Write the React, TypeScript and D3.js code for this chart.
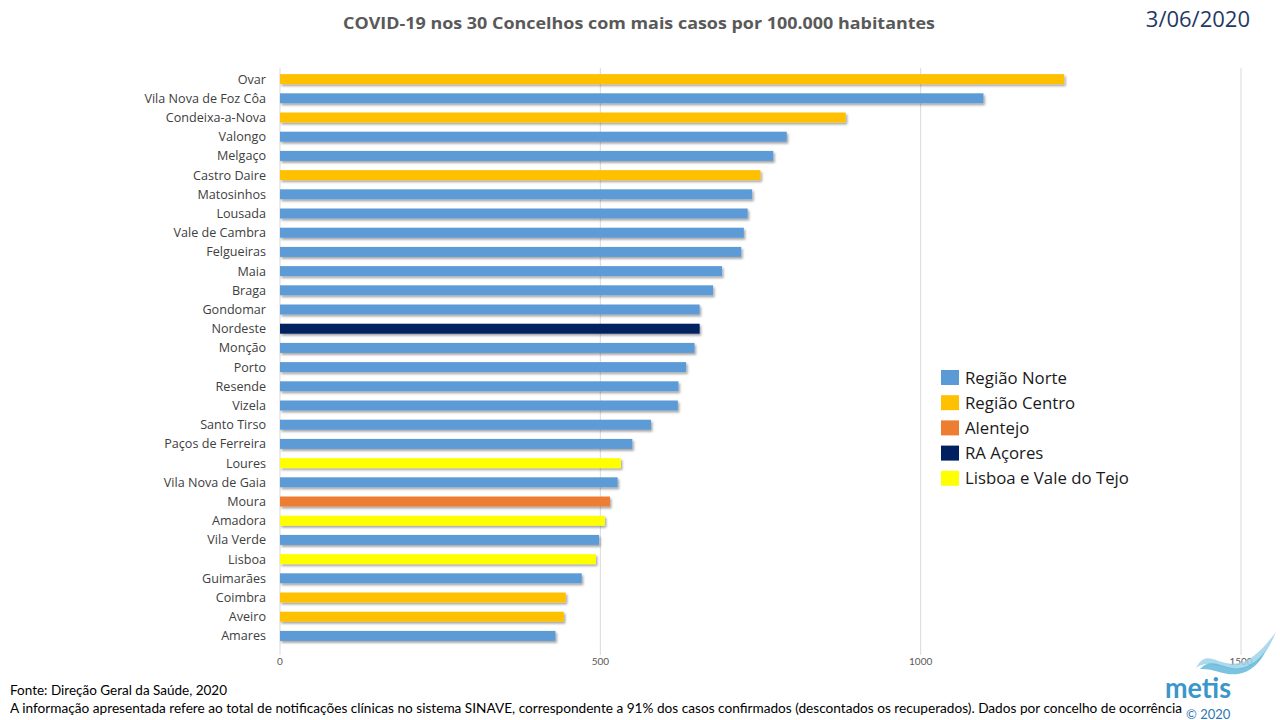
import React from "react";
import * as d3 from "d3";

const categories = [
  "Ovar", "Vila Nova de Foz Côa", "Condeixa-a-Nova", "Valongo", "Melgaço", "Castro Daire",
  "Matosinhos", "Lousada", "Vale de Cambra", "Felgueiras", "Maia", "Braga", "Gondomar",
  "Nordeste", "Monção", "Porto", "Resende", "Vizela", "Santo Tirso", "Paços de Ferreira",
  "Loures", "Vila Nova de Gaia", "Moura", "Amadora", "Vila Verde", "Lisboa", "Guimarães",
  "Coimbra", "Aveiro", "Amares",
];
const values = [
  1224, 1098, 883, 791, 770, 750, 737, 730, 724, 720, 690, 676, 655, 655, 647, 634, 622,
  621, 579, 550, 532, 527, 515, 507, 498, 493, 471, 446, 443, 430,
];
const regions = [
  "C", "N", "C", "N", "N", "C", "N", "N", "N", "N", "N", "N", "N", "A", "N", "N", "N",
  "N", "N", "N", "L", "N", "Al", "L", "N", "L", "N", "C", "C", "N",
];
const legendKeys = ["N", "C", "Al", "A", "L"];
const legendLabels = ["Região Norte", "Região Centro", "Alentejo", "RA Açores", "Lisboa e Vale do Tejo"];
const regionColors: Record<string, string> = {
  N: "#5B9BD5",
  C: "#FFC000",
  Al: "#ED7D31",
  A: "#002060",
  L: "#FFFF00",
};
const xTicks = [0, 500, 1000, 1500];

export default function App() {
  const W = 1280, H = 720;
  const x = d3.scaleLinear().domain([0, 1500]).range([280, 1241]);
  const y = d3.scaleBand().domain(categories).range([69.5, 645.5]).paddingInner(0.48).paddingOuter(0.24);
  const font = "'Open Sans', sans-serif";
  const narrow = "Lato, 'Open Sans', sans-serif";

  return (
    <svg width={W} height={H} style={{ position: "absolute", left: 0, top: 0, background: "#fff" }} fontFamily={font}>
      <defs>
        <filter id="sh" x="-5%" y="-50%" width="110%" height="250%">
          <feDropShadow dx="1.5" dy="2" stdDeviation="1.2" floodColor="#000" floodOpacity="0.35" />
        </filter>
      </defs>
      <rect width={W} height={H} fill="#fff" />
      <text x={343} y={29} fontSize={16.5} fontWeight="bold" fill="#595959"
        textLength={592} lengthAdjust="spacingAndGlyphs">
        COVID-19 nos 30 Concelhos com mais casos por 100.000 habitantes
      </text>
      <text x={1250} y={27} textAnchor="end" fontSize={22} fill="#1F3864">3/06/2020</text>

      {/* gridlines */}
      {xTicks.map((t) => (
        <line key={t} x1={x(t)} x2={x(t)} y1={68} y2={655} stroke="#D9D9D9" strokeWidth={1} />
      ))}
      {xTicks.map((t) => (
        <text key={"t" + t} x={x(t)} y={665} textAnchor="middle" fontSize={10} fill="#595959" fontFamily={narrow}>{t}</text>
      ))}

      {/* bars */}
      {categories.map((c, i) => (
        <g key={c}>
          <rect
            x={x(0)}
            y={y(c)!}
            width={x(values[i]) - x(0)}
            height={y.bandwidth()}
            fill={regionColors[regions[i]]}
            filter="url(#sh)"
          />
          <text x={266} y={y(c)! + y.bandwidth() / 2 + 4.5} textAnchor="end" fontSize={12.6} fill="#404040">
            {c}
          </text>
        </g>
      ))}

      {/* legend */}
      {legendKeys.map((k, i) => (
        <g key={k} transform={`translate(941, ${370 + i * 25.2})`}>
          <rect width={18} height={15} fill={regionColors[k]} />
          <text x={24} y={13.5} fontSize={16.8} fill="#1a1a1a">{legendLabels[i]}</text>
        </g>
      ))}

      {/* footer */}
      <text x={10} y={695} fontSize={13.5} fill="#000" fontFamily={narrow} textLength={217} lengthAdjust="spacingAndGlyphs">Fonte: Direção Geral da Saúde, 2020</text>
      <text x={10} y={713} fontSize={13.5} fill="#000" fontFamily={narrow} textLength={1172} lengthAdjust="spacingAndGlyphs">
        A informação apresentada refere ao total de notificações clínicas no sistema SINAVE, correspondente a 91% dos casos confirmados (descontados os recuperados). Dados por concelho de ocorrência
      </text>

      {/* logo */}
      <path d="M1196,668 C1204,652 1214,660 1222,662 C1232,665 1240,664 1248,660 C1258,654 1266,645 1276,632 C1268,652 1258,664 1246,668 C1236,671 1228,668 1220,666 C1210,664 1204,662 1196,668 Z" fill="#9ED3E8" opacity={0.85} />
      <path d="M1200,669 C1210,658 1220,666 1232,668 C1244,670 1256,664 1266,650 C1260,664 1250,672 1238,674 C1224,676 1214,668 1200,669 Z" fill="#5BB4D9" opacity={0.8} />
      <text x={1165} y={698} fontSize={29} fontWeight="bold" fill="#3B97C9" fontFamily={narrow}
        textLength={66} lengthAdjust="spacingAndGlyphs">metis</text>
      <text x={1186} y={718.5} fontSize={13} fill="#2E75B6" fontFamily={narrow}>© 2020</text>
    </svg>
  );
}
